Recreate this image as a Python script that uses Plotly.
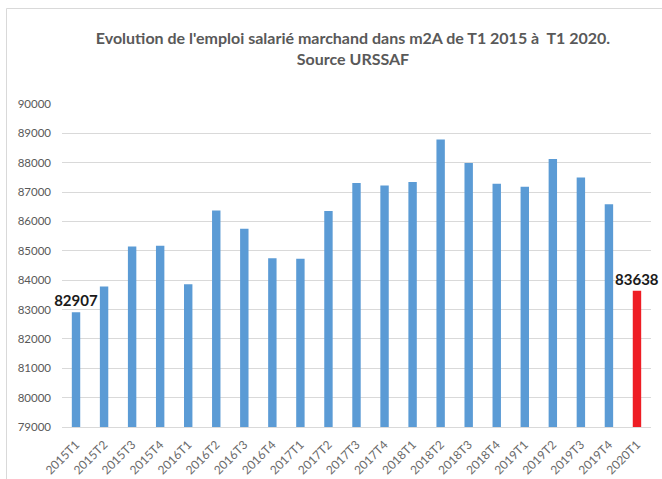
import plotly.graph_objects as go

categories = ["2015T1","2015T2","2015T3","2015T4","2016T1","2016T2","2016T3","2016T4",
              "2017T1","2017T2","2017T3","2017T4","2018T1","2018T2","2018T3","2018T4",
              "2019T1","2019T2","2019T3","2019T4","2020T1"]
values = [82907, 83785, 85147, 85170, 83864, 86375, 85750, 84750,
          84730, 86360, 87307, 87228, 87341, 88795, 87990, 87283,
          87180, 88125, 87500, 86590, 83638]
labelled = {0, 20}

W, H = 662, 479
L, R, T, B = 62, 11, 104, 52
pw, ph = W - L - R, H - T - B

colors = ["#5B9BD5"] * (len(values) - 1) + ["#EE1D24"]
texts = [str(v) if i in labelled else "" for i, v in enumerate(values)]

fig = go.Figure(go.Bar(
    x=categories, y=values, marker=dict(color=colors, line=dict(width=0)),
    text=texts, textposition="outside", cliponaxis=False, constraintext="none",
    textfont=dict(family="Lato", size=15, color="#1a1a1a", weight="bold"),
))

def px_x(p):
    return (p - L) / pw

def px_y(p):
    return (H - B - p) / ph

fig.add_shape(type="rect", xref="paper", yref="paper",
              x0=px_x(6.5), x1=px_x(675), y0=px_y(495), y1=px_y(8.5),
              line=dict(color="#D9D9D9", width=1), layer="above")

fig.update_layout(
    width=W, height=H,
    margin=dict(l=L, r=R, t=T, b=B, autoexpand=False),
    paper_bgcolor="white", plot_bgcolor="white",
    bargap=0.7,
    showlegend=False,
    font=dict(family="Lato", color="#595959"),
    title=dict(
        text="Evolution de l'emploi salarié marchand dans m2A de T1 2015 à  T1 2020.<br>Source URSSAF",
        x=px_x(353), xanchor="center", xref="paper", y=1 - 44 / H, yanchor="middle",
        font=dict(family="Lato", size=16, color="#595959", weight="bold"),
    ),
    xaxis=dict(tickangle=-45, tickfont=dict(size=12, color="#6a6a6a"),
               showline=True, linecolor="#D9D9D9", linewidth=1,
               showgrid=False, ticks="", automargin=False, ticklabelstandoff=5),
    yaxis=dict(range=[79000, 90000], dtick=1000, tickformat="d",
               tickfont=dict(size=11.5, color="#595959"),
               showgrid=True, gridcolor="#D9D9D9", gridwidth=1,
               zeroline=False, showline=False, ticks="", ticklabelstandoff=10,
               automargin=False),
)

fig.write_html("out.html", config={"displayModeBar": False},
               post_script="document.body.style.margin='0';document.body.style.overflow='hidden';")
